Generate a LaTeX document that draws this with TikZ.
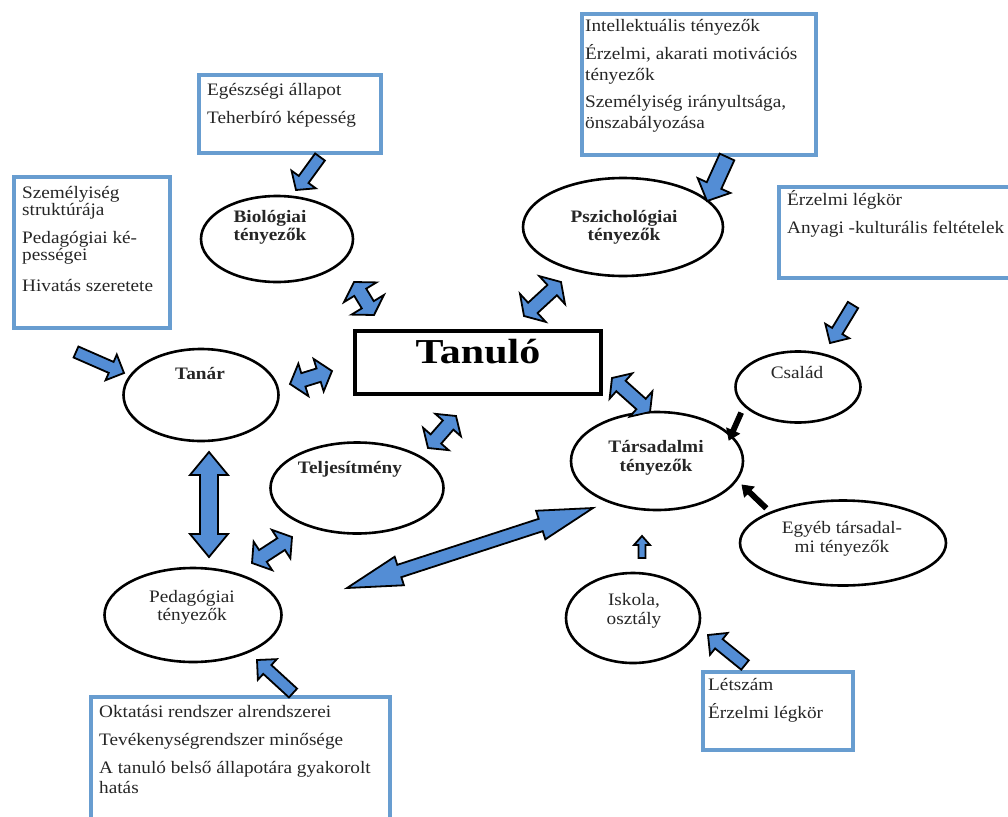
\documentclass[tikz,border=0pt]{standalone}
\usepackage{fontspec}
\setmainfont{Liberation Serif}[FakeStretch=1.1]
\newfontfamily\tanfont{Liberation Serif}[FakeStretch=1.2]
\usetikzlibrary{calc,shapes.geometric}
\definecolor{boxblue}{RGB}{104,157,208}
\definecolor{arrblue}{RGB}{83,141,213}
\newcommand\blkarrow[6]{%
  \path ($(#2)!#5!(#1)$) coordinate (tmpN);
  \draw[#6] ($(#1)!#3!90:(#2)$) -- ($(tmpN)!#3!90:(#2)$) -- ($(tmpN)!#4!90:(#2)$) -- (#2)
    -- ($(tmpN)!#4!-90:(#2)$) -- ($(tmpN)!#3!-90:(#2)$) -- ($(#1)!#3!-90:(#2)$) -- cycle;}
\newcommand\blkdarrow[6]{%
  \path ($(#1)!#5!(#2)$) coordinate (tmpA) ($(#2)!#5!(#1)$) coordinate (tmpB);
  \draw[#6] (#1) -- ($(tmpA)!#4!90:(#2)$) -- ($(tmpA)!#3!90:(#2)$) -- ($(tmpB)!#3!90:(#2)$)
    -- ($(tmpB)!#4!90:(#2)$) -- (#2) -- ($(tmpB)!#4!-90:(#2)$) -- ($(tmpB)!#3!-90:(#2)$)
    -- ($(tmpA)!#3!-90:(#2)$) -- ($(tmpA)!#4!-90:(#2)$) -- cycle;}
\begin{document}
\begin{tikzpicture}[x=1pt,y=-1pt,
  infobox/.style={draw=boxblue, line width=4pt, rectangle, inner sep=0pt, fill=white},
  oval/.style={draw=black, line width=2.6pt, ellipse, inner sep=0pt},
  boxtxt/.style={anchor=base west, align=left, inner sep=0pt, text=black!85},
  ovtxt/.style={anchor=base, align=center, inner sep=0pt, text=black!85},
  bluearr/.style={fill=arrblue, draw=black, line width=1.8pt, line join=miter},
  blackarr/.style={fill=black, draw=black, line width=0.8pt, line join=miter}]
\useasboundingbox (0,0) rectangle (1008,816);
\fill[white] (0,0) rectangle (1008,816);

% info boxes
\node[infobox, minimum width=156pt, minimum height=151pt] (bTL) at (92,252.5) {};
\node[infobox, minimum width=182pt, minimum height=78pt] (bBio) at (290,114) {};
\node[infobox, minimum width=234pt, minimum height=141pt] (bPsy) at (699,84.5) {};
\node[infobox, minimum width=251pt, minimum height=91pt] (bCsal) at (904.5,232.5) {};
\node[infobox, minimum width=299pt, minimum height=133pt] (bPed) at (240.5,763.5) {};
\node[infobox, minimum width=150pt, minimum height=78pt] (bIsk) at (778,711) {};

% (multi-line texts are placed at the baseline of their last line)
\node[boxtxt, font={\fontsize{17.5}{17.5}\selectfont}] (tTL) at (22,291)
  {Személyiség\\struktúrája\\[10pt]Pedagógiai ké-\\pességei\\[13pt]Hivatás szeretete};
\node[boxtxt, font={\fontsize{17.5}{20}\selectfont}] (tBioBox) at (207,123)
  {Egészségi állapot\\[8pt]Teherbíró képesség};
\node[boxtxt, font={\fontsize{17.5}{20.5}\selectfont}] (tPsyBox) at (585,128)
  {Intellektuális tényezők\\[7.5pt]Érzelmi, akarati motivációs\\tényezők\\[7pt]Személyiség irányultsága,\\önszabályozása};
\node[boxtxt, font={\fontsize{17.5}{20}\selectfont}] (tCsalBox) at (787,233)
  {Érzelmi légkör\\[8pt]Anyagi -kulturális feltételek};
\node[boxtxt, font={\fontsize{17.5}{20}\selectfont}] (tPedBox) at (99,793)
  {Oktatási rendszer alrendszerei\\[8pt]Tevékenységrendszer minősége\\[8pt]A tanuló belső állapotára gyakorolt\\hatás};
\node[boxtxt, font={\fontsize{17.5}{20}\selectfont}] (tIskBox) at (708,718)
  {Létszám\\[8pt]Érzelmi légkör};

% central box
\node[draw=black, line width=3.3pt, rectangle, minimum width=246pt, minimum height=63pt, inner sep=0pt] (tanulo) at (478,362.5) {};
\node[anchor=base, inner sep=0pt, font={\tanfont\bfseries\fontsize{35}{35}\selectfont}] (tTanulo) at (478,363) {Tanuló};

% ellipses
\node[oval, minimum width=152pt, minimum height=86pt] (eBio) at (277,239) {};
\node[oval, minimum width=200pt, minimum height=98pt] (ePsy) at (623,227) {};
\node[oval, minimum width=155pt, minimum height=92pt] (eTan) at (201,395) {};
\node[oval, minimum width=173pt, minimum height=91pt] (eTelj) at (357,488) {};
\node[oval, minimum width=177pt, minimum height=94pt] (ePed) at (193,615) {};
\node[oval, minimum width=172pt, minimum height=98pt] (eTars) at (657,461) {};
\node[oval, minimum width=125pt, minimum height=71pt] (eCsal) at (798,387) {};
\node[oval, minimum width=206pt, minimum height=85pt] (eEgy) at (843,543) {};
\node[oval, minimum width=134pt, minimum height=90pt] (eIsk) at (633,618) {};

\node[ovtxt, font={\bfseries\fontsize{17.5}{16}\selectfont}] (lBio) at (270,240) {Biológiai\\tényezők};
\node[ovtxt, font={\bfseries\fontsize{17.5}{16}\selectfont}] (lPsy) at (624,240) {Pszichológiai\\tényezők};
\node[ovtxt, font={\bfseries\fontsize{17.5}{16}\selectfont}] (lTan) at (200,379) {Tanár};
\node[ovtxt, font={\bfseries\fontsize{17.5}{16}\selectfont}] (lTelj) at (350,473) {Teljesítmény};
\node[ovtxt, font={\bfseries\fontsize{17.5}{19}\selectfont}] (lTars) at (656,471) {Társadalmi\\tényezők};
\node[ovtxt, font={\fontsize{17.5}{18}\selectfont}] (lPed) at (192,620) {Pedagógiai\\tényezők};
\node[ovtxt, font={\fontsize{17.5}{18}\selectfont}] (lCsal) at (797,378) {Család};
\node[ovtxt, font={\fontsize{17.5}{19}\selectfont}] (lEgy) at (842,552) {Egyéb társadal-\\mi tényezők};
\node[ovtxt, font={\fontsize{17.5}{19}\selectfont}] (lIsk) at (634,624) {Iskola,\\osztály};

% arrow end points
\coordinate (a1s) at (320,157);  \coordinate (a1e) at (296,190);
\coordinate (a2s) at (727,157);  \coordinate (a2e) at (707,201);
\coordinate (a3s) at (853,305);  \coordinate (a3e) at (830,343);
\coordinate (a4s) at (76,352);   \coordinate (a4e) at (124,373);
\coordinate (a5s) at (293,693);  \coordinate (a5e) at (257,660);
\coordinate (a6s) at (745,665);  \coordinate (a6e) at (708,635);
\coordinate (a7s) at (642,558);  \coordinate (a7e) at (642,536);
\coordinate (b1s) at (741,413);  \coordinate (b1e) at (729,440);
\coordinate (b2s) at (766,508);  \coordinate (b2e) at (742,485);
\coordinate (d1a) at (290,384);  \coordinate (d1b) at (332,371);
\coordinate (d2a) at (354,282);  \coordinate (d2b) at (374,315);
\coordinate (d3a) at (561,282);  \coordinate (d3b) at (524,316);
\coordinate (d4a) at (456,416);  \coordinate (d4b) at (428,448);
\coordinate (d5a) at (612,378);  \coordinate (d5b) at (650,412);
\coordinate (d6a) at (209,452);  \coordinate (d6b) at (209,557);
\coordinate (d7a) at (292,537);  \coordinate (d7b) at (252,563);
\coordinate (d8a) at (347,588);  \coordinate (d8b) at (593,508);

% single arrows
\blkarrow{a1s}{a1e}{6pt}{15pt}{13pt}{bluearr}
\blkarrow{a2s}{a2e}{8pt}{18pt}{17pt}{bluearr}
\blkarrow{a3s}{a3e}{6pt}{14pt}{14pt}{bluearr}
\blkarrow{a4s}{a4e}{6pt}{14pt}{14pt}{bluearr}
\blkarrow{a5s}{a5e}{6pt}{14pt}{14pt}{bluearr}
\blkarrow{a6s}{a6e}{6pt}{14pt}{14pt}{bluearr}
\blkarrow{a7s}{a7e}{3.5pt}{8pt}{9pt}{bluearr}
\blkarrow{b1s}{b1e}{2.5pt}{7pt}{10pt}{blackarr}
\blkarrow{b2s}{b2e}{2.5pt}{7pt}{10pt}{blackarr}
% double arrows
\blkdarrow{d1a}{d1b}{7pt}{17pt}{14pt}{bluearr}
\blkdarrow{d2a}{d2b}{7pt}{19pt}{12pt}{bluearr}
\blkdarrow{d3a}{d3b}{7pt}{19pt}{12pt}{bluearr}
\blkdarrow{d4a}{d4b}{7pt}{17pt}{12pt}{bluearr}
\blkdarrow{d5a}{d5b}{7pt}{17pt}{12pt}{bluearr}
\blkdarrow{d6a}{d6b}{9pt}{19pt}{23pt}{bluearr}
\blkdarrow{d7a}{d7b}{7pt}{17pt}{13pt}{bluearr}
\blkdarrow{d8a}{d8b}{6.5pt}{15pt}{55pt}{bluearr}
\end{tikzpicture}
\end{document}
